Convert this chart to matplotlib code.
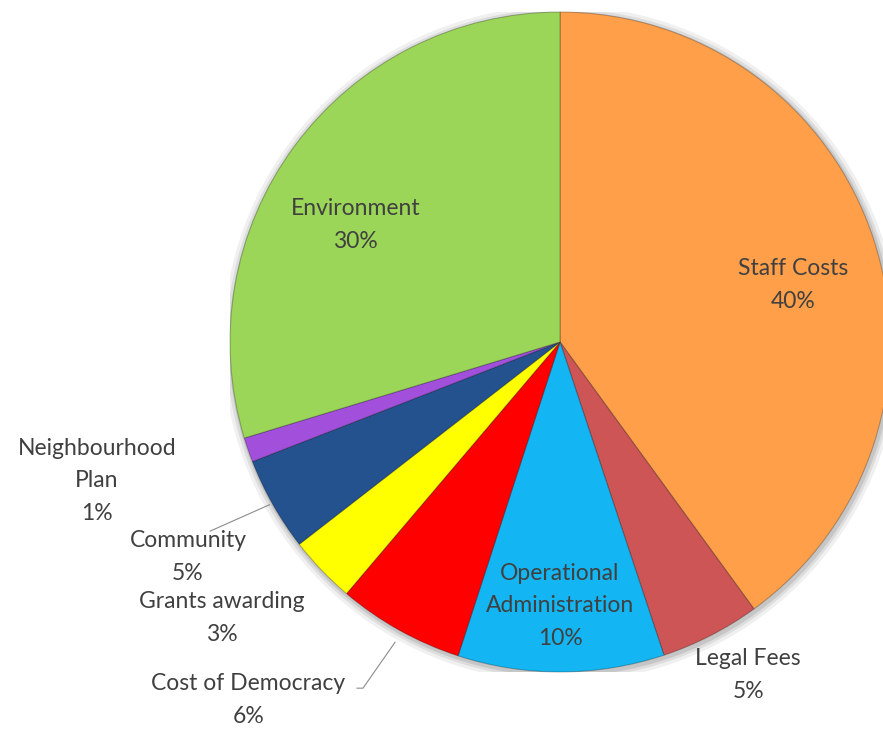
import numpy as np
import matplotlib
matplotlib.use("Agg")
import matplotlib.pyplot as plt

# slices, clockwise from 12 o'clock
categories = ["Staff Costs", "Legal Fees", "Operational\nAdministration", "Cost of Democracy",
              "Grants awarding", "Community", "Neighbourhood\nPlan", "Environment"]
shares = [40.0, 4.9, 10.1, 6.2, 3.3, 4.6, 1.2, 29.7]
colors = ["#FF9F4A", "#CD5555", "#13B5F2", "#FF0000", "#FFFF00", "#24528F", "#A24FDB", "#9BD658"]

# label placement (data coords, pie radius = 1)
label_pos = [(0.706, 0.173), (0.57, -1.01), (0.0, -0.80), (-0.945, -1.085),
             (-1.024, -0.836), (-1.127, -0.652), (-1.403, -0.421), (-0.62, 0.355)]

plt.rcParams['font.family'] = ['Lato', 'DejaVu Sans']

W, H = 883, 729
fig = plt.figure(figsize=(W / 100, H / 100), dpi=100)
cx, cy, r = 560, 342, 330
ax = fig.add_axes([(cx - r) / W, (H - cy - r) / H, 2 * r / W, 2 * r / H])

# soft shadow under the pie
for k, a in zip([1.025, 1.015, 1.007], [0.06, 0.08, 0.10]):
    ax.add_patch(plt.Circle((0.004, -0.006), k, color='black', alpha=a, lw=0, zorder=0))

wedges, _ = ax.pie(shares, colors=colors, startangle=90, counterclock=False, radius=1,
                   wedgeprops=dict(edgecolor=(0, 0, 0, 0.25), linewidth=0.8))
for w in wedges:
    w.set_zorder(1)

ax.set_xlim(-1, 1)
ax.set_ylim(-1, 1)
ax.set_aspect('equal')
ax.axis('off')

for i, (lab, s) in enumerate(zip(categories, shares)):
    x, y = label_pos[i]
    ax.text(x, y, f"{lab}\n{round(s)}%", ha='center', va='center', fontsize=16.5,
            color='#404040', linespacing=1.7, zorder=3, clip_on=False)

# leader lines
ax.plot([-0.615, -0.597, -0.50], [-1.049, -1.049, -0.91], color='#8c8c8c', lw=0.8,
        clip_on=False, zorder=2)
ax.plot([-1.06, -0.88], [-0.573, -0.493], color='#8c8c8c', lw=0.8, clip_on=False, zorder=2)

fig.savefig("out.png", dpi=100)
